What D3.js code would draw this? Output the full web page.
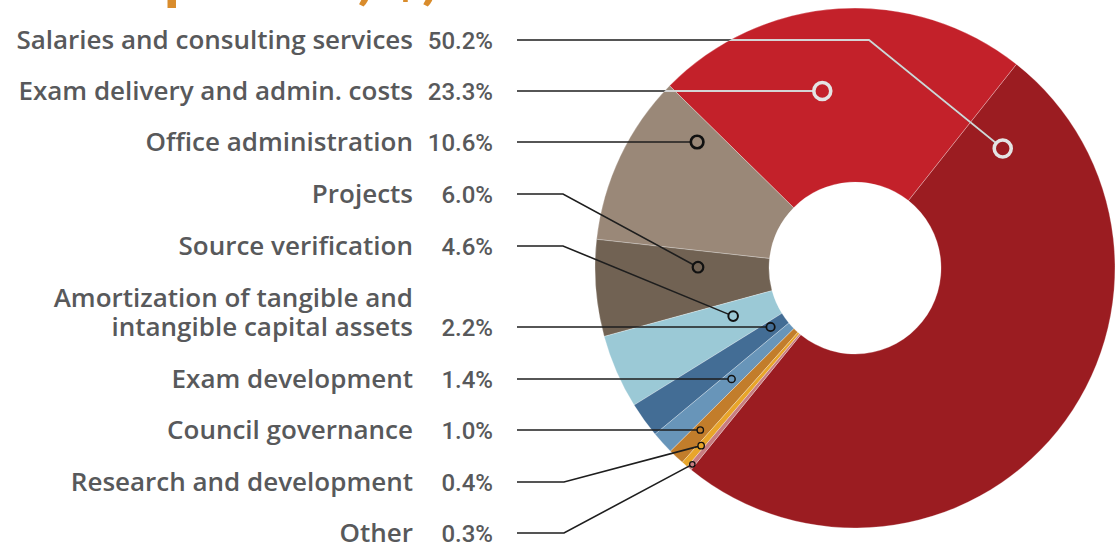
<!DOCTYPE html>
<html>
<head>
<meta charset="utf-8">
<script src="https://cdn.jsdelivr.net/npm/d3@7"></script>
<style>
    body { margin: 0; background: #fff; }
    svg { display: block; }
</style>
</head>
<body>
<svg id="chart" width="1115" height="546"></svg>
<script>
// expense categories, in legend order (top to bottom)
const CATEGORIES = [
    ['Salaries and consulting services'],
    ['Exam delivery and admin. costs'],
    ['Office administration'],
    ['Projects'],
    ['Source verification'],
    ['Amortization of tangible and', 'intangible capital assets'],
    ['Exam development'],
    ['Council governance'],
    ['Research and development'],
    ['Other'],
];

// share of total expenses, %
const SHARES = [50.2, 23.3, 10.6, 6.0, 4.6, 2.2, 1.4, 1.0, 0.4, 0.3];

// slice colours
const COLORS = ['#9b1c21', '#c3212a', '#9a8878', '#716253', '#9bc9d6',
    '#436d95', '#6895b9', '#c27d2b', '#e8a52a', '#c77d80'];

// where each leader dot sits: radius, and fraction across the slice (null = keep the line flat)
const ANCHORS = [
    { r: 190, t: 0.07, elbow: 869, light: true, dot: 8.5 },
    { r: 180, t: null, light: true, dot: 8.5 },
    { r: 202, t: null, dot: 6.3 },
    { r: 157, t: 0.72, elbow: 563, dot: 5.3 },
    { r: 131, t: 0.62, elbow: 563, dot: 4.8 },
    { r: 103, t: null, dot: 4.2 },
    { r: 166, t: null, dot: 3.6 },
    { r: 224, t: null, dot: 3.2 },
    { r: 235, t: 0.5, elbow: 564, dot: 3.2 },
    { r: 255, t: 0.5, elbow: 564, dot: 2.7 },
];

const SVG = d3.select('#chart');
const CX = 855, CY = 268;
const R_OUT = 260, R_IN = 86;
const ROW_Y = [40, 91, 142, 194, 246, 327, 379, 430, 482, 533];
const NAME_X = 413, PCT_X = 493, LINE_X = 517;
const TEXT_COLOR = '#58595b';

const DEG = Math.PI / 180;
const START = 219.1 * DEG;

// cut-off title at the very top, only descenders show
SVG.append('text')
    .attr('x', 100)
    .attr('y', -4)
    .style('font-family', 'Roboto, sans-serif')
    .style('font-weight', '700')
    .style('font-size', '60px')
    .style('fill', '#d98c2c')
    .text('Expenses, $, %');

// pie, counter-clockwise from the lower left so Salaries fills the right side
const PIE = d3.pie()
    .sort(null)
    .value(d => d)
    .startAngle(START)
    .endAngle(START - 2 * Math.PI);

const ARCS = PIE(SHARES);

const ARC = d3.arc()
    .innerRadius(R_IN)
    .outerRadius(R_OUT);

const DONUT_G = SVG.append('g')
    .attr('transform', `translate(${CX}, ${CY})`);

DONUT_G.selectAll('path')
    .data(ARCS)
    .join('path')
    .attr('d', ARC)
    .style('fill', (d, i) => COLORS[i])
    .style('stroke', 'rgba(255,255,255,0.35)')
    .style('stroke-width', 0.8);

// dot position for one item
function anchor_helper(d, i) {
    const a = ANCHORS[i];
    if (a.t === null) {
        const dy = ROW_Y[i] - CY;
        return [CX - Math.sqrt(a.r * a.r - dy * dy), ROW_Y[i]];
    }
    const lo = Math.min(d.startAngle, d.endAngle);
    const hi = Math.max(d.startAngle, d.endAngle);
    const ang = lo + a.t * (hi - lo);
    return [CX + a.r * Math.sin(ang), CY - a.r * Math.cos(ang)];
}

function leader_helper(d, i) {
    const p = anchor_helper(d, i);
    const pts = [[LINE_X, ROW_Y[i]]];
    if (ANCHORS[i].t !== null) pts.push([ANCHORS[i].elbow, ROW_Y[i]]);
    pts.push(p);
    return d3.line()(pts);
}

// clip for the light part of the lines over the red slices
SVG.append('clipPath')
    .attr('id', 'donutClip')
    .append('circle')
    .attr('cx', CX)
    .attr('cy', CY)
    .attr('r', R_OUT);

const LINES_G = SVG.append('g');

LINES_G.selectAll('path.dark')
    .data(ARCS)
    .join('path')
    .attr('class', 'dark')
    .attr('d', leader_helper)
    .style('fill', 'none')
    .style('stroke', '#1e1e1e')
    .style('stroke-width', 1.6);

LINES_G.selectAll('path.light')
    .data(ARCS.filter((d, i) => ANCHORS[i].light))
    .join('path')
    .attr('class', 'light')
    .attr('clip-path', 'url(#donutClip)')
    .attr('d', d => leader_helper(d, d.index))
    .style('fill', 'none')
    .style('stroke', '#d4d4d4')
    .style('stroke-width', 1.8);

// dots
LINES_G.selectAll('circle')
    .data(ARCS)
    .join('circle')
    .attr('cx', (d, i) => anchor_helper(d, i)[0])
    .attr('cy', (d, i) => anchor_helper(d, i)[1])
    .attr('r', (d, i) => ANCHORS[i].dot)
    .style('fill', (d, i) => COLORS[i])
    .style('stroke', (d, i) => ANCHORS[i].light ? '#e4e4e4' : '#111')
    .style('stroke-width', (d, i) => Math.max(1.3, ANCHORS[i].dot * 0.42));

// labels
const LABEL_G = SVG.append('g')
    .style('fill', TEXT_COLOR);

CATEGORIES.forEach((lines, i) => {
    lines.forEach((txt, j) => {
        LABEL_G.append('text')
            .attr('x', NAME_X)
            .attr('y', ROW_Y[i] - (lines.length - 1 - j) * 29)
            .attr('dy', '0.36em')
            .attr('text-anchor', 'end')
            .style('font-family', '"Open Sans", sans-serif')
            .style('font-weight', '600')
            .style('font-size', '26px')
            .text(txt);
    });
    LABEL_G.append('text')
        .attr('x', PCT_X)
        .attr('y', ROW_Y[i])
        .attr('dy', '0.36em')
        .attr('text-anchor', 'end')
        .style('font-family', 'Roboto, sans-serif')
        .style('font-weight', '500')
        .style('font-size', '24px')
        .text(d3.format('.1f')(SHARES[i]) + '%');
});
</script>
</body>
</html>
